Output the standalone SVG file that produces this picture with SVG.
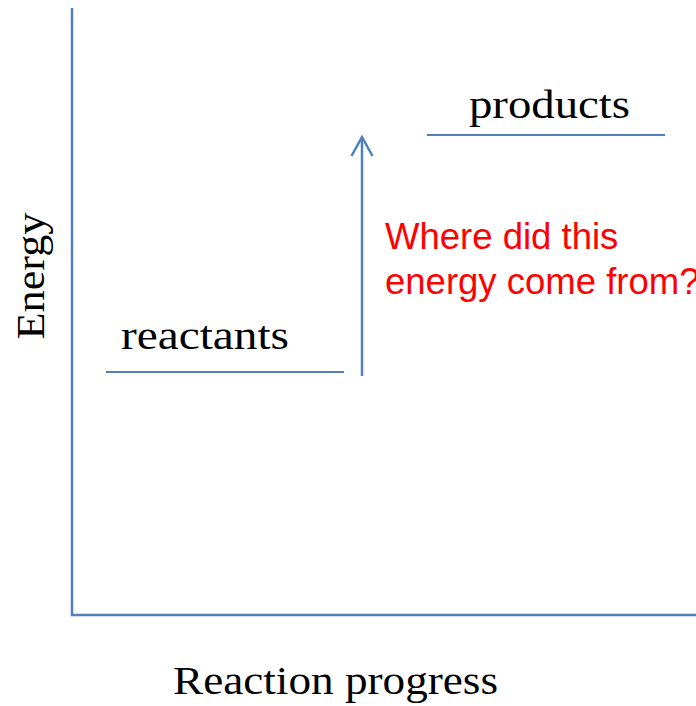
<svg xmlns="http://www.w3.org/2000/svg" width="696" height="706" viewBox="0 0 696 706">
<style>
.ln{stroke:#4f81bd;fill:none}
.lbl{font-family:"Liberation Serif","Times New Roman",serif;font-size:41px;fill:#000}
.q{font-family:"Liberation Sans",Arial,sans-serif;font-size:36.5px;fill:#ff0000}
</style>
<defs>
<marker id="ah" viewBox="0 0 24 24" refX="20" refY="12" markerWidth="24" markerHeight="24" markerUnits="userSpaceOnUse" orient="auto">
<path d="M1,1.5 L20,12 L1,22.5" stroke="#4f81bd" stroke-width="2.5" fill="none"/>
</marker>
</defs>
<rect width="696" height="706" fill="#fff"/>
<g id="axes">
<path class="ln" stroke-width="2.5" d="M72,8 V615 H696"/>
</g>
<g id="reactants">
<line class="ln" stroke-width="2" x1="106" y1="372" x2="344" y2="372"/>
<text class="lbl" x="121" y="349" textLength="168" lengthAdjust="spacingAndGlyphs">reactants</text>
</g>
<g id="products">
<line class="ln" stroke-width="2" x1="427" y1="135" x2="665" y2="135"/>
<text class="lbl" x="469" y="118" textLength="161" lengthAdjust="spacingAndGlyphs">products</text>
</g>
<g id="connectors">
<line class="ln" stroke-width="2.5" x1="362" y1="376" x2="362" y2="137" marker-end="url(#ah)"/>
</g>
<g id="question">
<text class="q" x="385" y="249">Where did this</text>
<text class="q" x="385" y="294">energy come from?</text>
</g>
<g id="ylabel">
<text class="lbl" transform="translate(44,276) rotate(-90)" text-anchor="middle" textLength="127" lengthAdjust="spacingAndGlyphs">Energy</text>
</g>
<g id="xlabel">
<text class="lbl" x="173" y="694" textLength="325" lengthAdjust="spacingAndGlyphs">Reaction progress</text>
</g>
</svg>
